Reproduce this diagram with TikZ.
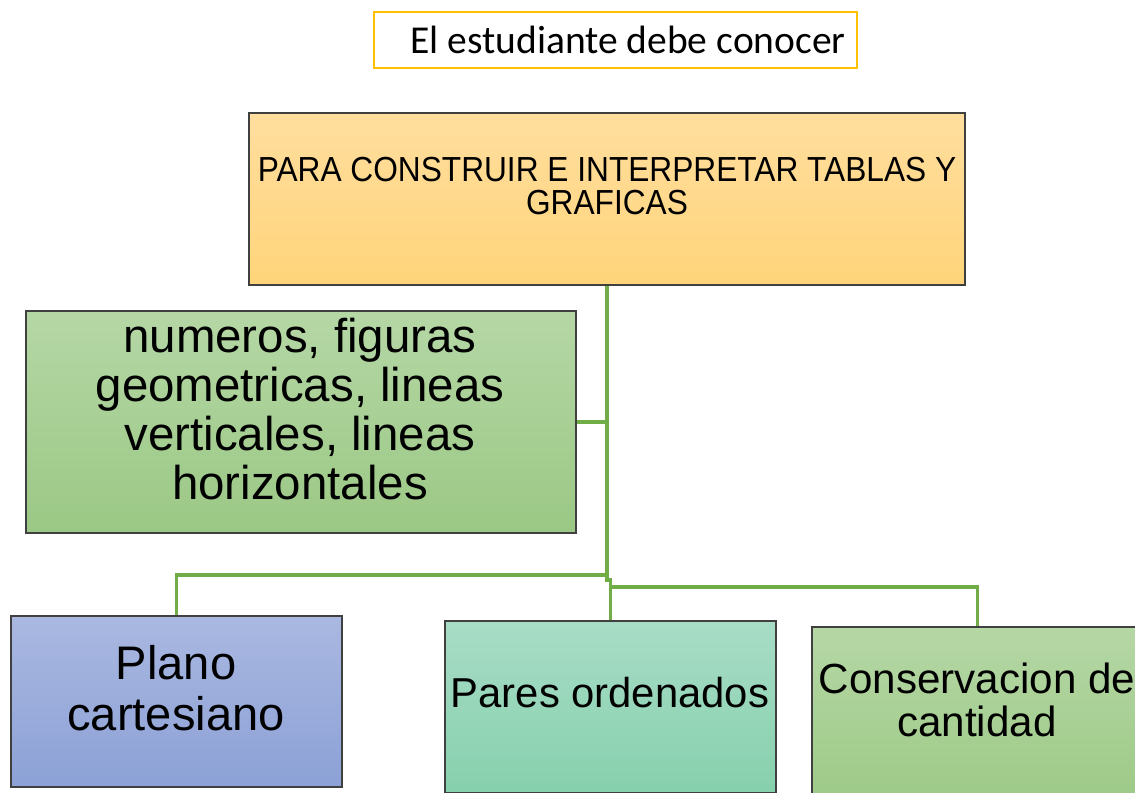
\documentclass[tikz,border=0pt]{standalone}
\usepackage{fontspec}
\setmainfont{Liberation Sans}
\newfontfamily\calibri{Carlito}
\newfontfamily\estrecha[FakeStretch=0.91]{Liberation Sans}
\usetikzlibrary{calc}
\definecolor{oro}{RGB}{255,192,0}
\definecolor{rama}{RGB}{112,173,71}
\definecolor{borde}{RGB}{64,64,64}
\tikzset{
  caja/.style={rectangle,draw=borde,line width=0.7pt,inner sep=0pt},
  conn/.style={draw=rama,line width=1.9pt},
  texto/.style={align=center,inner sep=0pt}
}

\begin{document}
\begin{tikzpicture}[x=0.02cm,y=-0.02cm]
  \useasboundingbox (0,0) rectangle (1135,793);

  % titulo
  \node[rectangle,draw=oro,line width=0.9pt,minimum width=9.66cm,minimum height=1.12cm] (titulo) at (615.5,40) {};
  \node[texto,font=\calibri\fontsize{22.5}{26}\selectfont] at (628,40) {El estudiante debe conocer};

  % cajas
  \node[caja,top color={rgb,255:red,255;green,222;blue,158},bottom color={rgb,255:red,255;green,212;blue,122},
        minimum width=14.32cm,minimum height=3.44cm] (para) at (607,199) {};
  \node[texto,font=\estrecha\fontsize{19.8}{19}\selectfont] at (607,186)
        {PARA CONSTRUIR E INTERPRETAR TABLAS Y\\GRAFICAS};

  \node[caja,top color={rgb,255:red,181;green,215;blue,165},bottom color={rgb,255:red,155;green,200;blue,133},
        minimum width=11cm,minimum height=4.44cm] (numeros) at (301,422) {};
  \node[texto,font=\fontsize{27}{28}\selectfont] at (300,409)
        {numeros, figuras\\geometricas, lineas\\verticales, lineas\\horizontales};

  \node[caja,top color={rgb,255:red,170;green,184;blue,225},bottom color={rgb,255:red,140;green,161;blue,214},
        minimum width=6.62cm,minimum height=3.42cm] (plano) at (176.5,701.5) {};
  \node[texto,font=\fontsize{26.8}{29}\selectfont] at (176,688) {Plano\\cartesiano};

  \node[caja,top color={rgb,255:red,168;green,220;blue,198},bottom color={rgb,255:red,134;green,208;blue,173},
        minimum width=6.62cm,minimum height=3.44cm] (pares) at (610.5,707) {};
  \node[texto,font=\fontsize{23.8}{26}\selectfont] at (610,693) {Pares ordenados};

  \node[caja,top color={rgb,255:red,181;green,215;blue,165},bottom color={rgb,255:red,158;green,202;blue,136},
        minimum width=6.62cm,minimum height=3.4cm] (conserva) at (977.5,712) {};
  \node[texto,font=\fontsize{24}{24}\selectfont] at (977,700) {Conservacion de\\cantidad};

  % conectores
  \coordinate (codo) at (607,580);
  \draw[conn] (para.south) -- (codo) -- (pares.north |- codo) -- (pares.north);
  \draw[conn] (numeros.east) -- (numeros.east -| codo);
  \draw[conn] (codo |- 0,575) -| (plano.north);
  \draw[conn] (pares.north |- 0,587) -| (conserva.north);
\end{tikzpicture}
\end{document}
